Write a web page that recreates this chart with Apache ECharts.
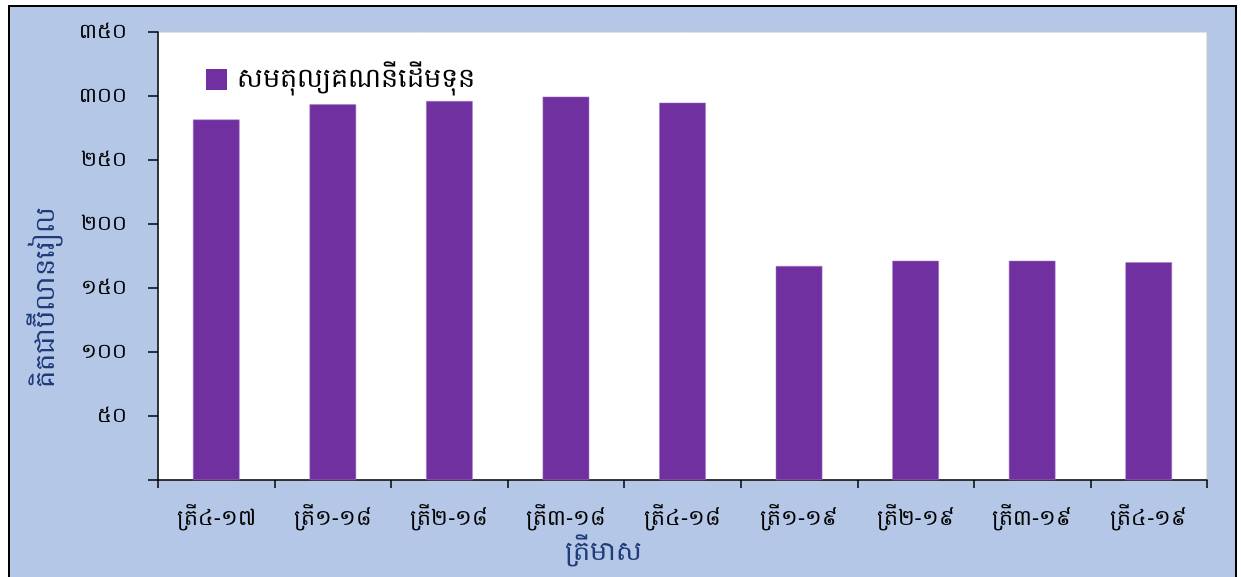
<!DOCTYPE html>
<html>
<head>
<meta charset="utf-8">
<script src="https://cdn.jsdelivr.net/npm/echarts@6/dist/echarts.min.js"></script>
<style>
html,body{margin:0;padding:0;background:#fff;}
#frame{position:absolute;left:8px;top:5px;width:1229px;height:580px;border:2px solid #000;background:#b4c7e7;box-sizing:border-box;}
#chart{position:absolute;left:0;top:0;width:1241px;height:577px;}
</style>
</head>
<body>
<div id="frame"></div>
<div id="chart"></div>
<script>
const categories = ['ត្រី៤-១៧','ត្រី១-១៨','ត្រី២-១៨','ត្រី៣-១៨','ត្រី៤-១៨','ត្រី១-១៩','ត្រី២-១៩','ត្រី៣-១៩','ត្រី៤-១៩'];
const seriesName = 'សមតុល្យគណនីដើមទុន';
const values = [281.6, 293.5, 296.1, 299.5, 294.8, 167.2, 171.3, 171.3, 170.1];
const yAxisName = 'គិតជាប៊ីលានរៀល';
const xAxisName = 'ត្រីមាស';
const khmerDigits = ['០','១','២','៣','៤','៥','៦','៧','៨','៩'];
function toKhmer(n){ return String(n).replace(/[0-9]/g, d => khmerDigits[+d]); }

const chart = echarts.init(document.getElementById('chart'));
const font = '"Noto Sans", "DejaVu Sans", sans-serif';
chart.setOption({
  backgroundColor: 'transparent',
  animation: false,
  textStyle: {fontFamily: font},
  grid: {left: 158, top: 32, width: 1049, height: 448, show: true, backgroundColor: '#ffffff', borderColor: '#c8c8c8', borderWidth: 1},
  legend: {
    show: true, left: 206, top: 66, padding: 0, itemWidth: 21, itemHeight: 21, itemGap: 10,
    icon: 'rect',
    itemStyle: {borderWidth: 0},
    textStyle: {fontSize: 27, color: '#000', fontFamily: font, padding: [0, 0, 4, 5]},
    data: [seriesName]
  },
  graphic: [
    {type: 'text', x: 46, y: 297, rotation: Math.PI / 2,
      style: {text: yAxisName, fontSize: 27, fill: '#1f3b7a', fontFamily: font, align: 'center', verticalAlign: 'middle'}},
    {type: 'text', x: 603, y: 552,
      style: {text: xAxisName, fontSize: 27, fill: '#1f3b7a', fontFamily: font, align: 'center', verticalAlign: 'middle'}}
  ],
  xAxis: {
    type: 'category', data: categories,
    axisLine: {lineStyle: {color: '#000', width: 1.5}},
    axisTick: {show: true, length: 8, lineStyle: {color: '#000', width: 1.5}},
    axisLabel: {fontSize: 22, color: '#000', margin: 28, fontFamily: font}
  },
  yAxis: {
    type: 'value', min: 0, max: 350, interval: 50,
    axisLine: {show: true, lineStyle: {color: '#000', width: 1.5}},
    axisTick: {show: true, length: 10, lineStyle: {color: '#000', width: 1.5}},
    splitLine: {show: false},
    axisLabel: {fontSize: 21, color: '#000', margin: 31, fontFamily: font,
      formatter: v => v === 0 ? '' : toKhmer(v)}
  },
  series: [{
    type: 'bar', name: seriesName, data: values, barWidth: '40%',
    itemStyle: {color: '#7030a0', borderColor: '#a77fc9', borderWidth: 0.5}
  }]
});
</script>
</body>
</html>
